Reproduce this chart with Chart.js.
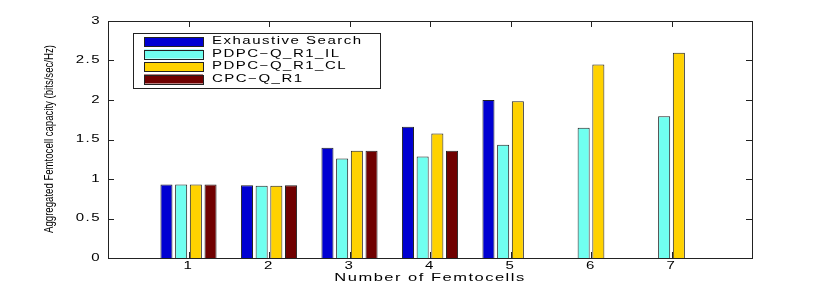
<!DOCTYPE html>
<html>
<head>
<meta charset="utf-8">
<script src="https://cdn.jsdelivr.net/npm/chart.js@4.4.1/dist/chart.umd.min.js"></script>
<style>
body{margin:0;background:#fff;}
#c{display:block;}
</style>
</head>
<body>
<canvas id="c" width="830" height="291"></canvas>
<script>
// categories and tick labels
const femtocells=['1','2','3','4','5','6','7'];
const yTicks=[0,0.5,1,1.5,2,2.5,3];
const xTitle='Number of Femtocells';
const yTitle='Aggregated Femtocell capacity (bits/sec/Hz)';

// series values
const exhaustive=[0.93,0.92,1.395,1.66,2.0,null,null];
const pdpcIL=[0.93,0.915,1.26,1.285,1.433,1.648,1.795];
const pdpcCL=[0.93,0.915,1.357,1.576,1.985,2.45,2.597];
const cpc=[0.93,0.92,1.357,1.357,null,null,null];

const seriesNames=['Exhaustive Search','PDPC\u2212Q_R1_IL','PDPC\u2212Q_R1_CL','CPC\u2212Q_R1'];
const seriesColors=['#0000d2','#70fff0','#ffd200','#700000'];

// empty slot on each side so 1..7 sit like matlab's 0..8 axis
const labels=[''].concat(femtocells,['']);
function pad(arr){ return [null].concat(arr,[null]); }

// stretched helvetica-ish text like the matlab export
function wideText(ctx,txt,x,y,align,size){
  ctx.save();
  ctx.font=size+'px "Liberation Sans", Arial, sans-serif';
  ctx.letterSpacing='1px';
  ctx.textBaseline='middle';
  ctx.textAlign='left';
  ctx.fillStyle='#000';
  ctx.translate(x,y);
  ctx.scale(1.5,1);
  let w=ctx.measureText(txt).width;
  let sx=0;
  if(align=='right') sx=-w;
  else if(align=='center') sx=-w/2;
  ctx.fillText(txt,sx,0);
  ctx.restore();
}

// frame, inward ticks, labels and legend box
const matlabAxes={
  id:'matlabAxes',
  afterDatasetsDraw(chart){
    const ctx=chart.ctx, a=chart.chartArea, xs=chart.scales.x, ys=chart.scales.y;
    ctx.save();
    ctx.strokeStyle='#222';
    ctx.lineWidth=1;
    ctx.strokeRect(a.left+0.5,a.top+0.5,a.right-a.left,a.bottom-a.top);
    ctx.beginPath();
    yTicks.forEach(v=>{
      let py=Math.round(ys.getPixelForValue(v))+0.5;
      ctx.moveTo(a.left,py); ctx.lineTo(a.left+6,py);
      ctx.moveTo(a.right,py); ctx.lineTo(a.right-6,py);
    });
    femtocells.forEach((c,i)=>{
      let px=Math.round(xs.getPixelForValue(i+1))+0.5;
      ctx.moveTo(px,a.bottom); ctx.lineTo(px,a.bottom-6);
      ctx.moveTo(px,a.top); ctx.lineTo(px,a.top+6);
    });
    ctx.stroke();

    // tick labels
    yTicks.forEach(v=>{
      wideText(ctx,String(v),101,ys.getPixelForValue(v),'right',10);
    });
    femtocells.forEach((c,i)=>{
      wideText(ctx,c,xs.getPixelForValue(i+1),266,'center',10);
    });
    wideText(ctx,xTitle,(a.left+a.right)/2,278,'center',11);

    // y title, condensed and rotated
    ctx.save();
    ctx.translate(53,139);
    ctx.rotate(-Math.PI/2);
    ctx.scale(0.8,1);
    ctx.font='12px "Liberation Sans", Arial, sans-serif';
    ctx.textAlign='center';
    ctx.textBaseline='alphabetic';
    ctx.fillStyle='#000';
    ctx.fillText(yTitle,0,0);
    ctx.restore();

    // legend
    ctx.fillStyle='#fff';
    ctx.fillRect(133,33,247,55);
    ctx.strokeRect(133.5,33.5,247,55);
    chart.data.datasets.forEach((ds,i)=>{
      let ry=41.5+i*12.5;
      ctx.fillStyle=ds.backgroundColor;
      ctx.fillRect(144,ry-4.5,59,9);
      ctx.strokeRect(144.5,Math.round(ry-4.5)+0.5,59,9);
      wideText(ctx,ds.label,212,ry,'left',10);
    });
    ctx.restore();
  }
};

const datasets=[exhaustive,pdpcIL,pdpcCL,cpc].map((vals,i)=>({
  label:seriesNames[i],
  data:pad(vals),
  backgroundColor:seriesColors[i],
  borderColor:'#222',
  borderWidth:1,
  categoryPercentage:0.73,
  barPercentage:0.82
}));

new Chart(document.getElementById('c'),{
  type:'bar',
  data:{labels:labels,datasets:datasets},
  options:{
    responsive:false,
    animation:false,
    devicePixelRatio:1,
    layout:{padding:{top:21,right:78,left:0,bottom:0}},
    plugins:{legend:{display:false},tooltip:{enabled:false}},
    scales:{
      x:{
        offset:false,
        grid:{display:false,drawTicks:false},
        border:{display:false},
        ticks:{display:false},
        afterFit(s){ s.height=33; }
      },
      y:{
        min:0,max:3,
        grid:{display:false,drawTicks:false},
        border:{display:false},
        ticks:{display:false,stepSize:0.5},
        afterFit(s){ s.width=108; }
      }
    }
  },
  plugins:[matlabAxes]
});
</script>
</body>
</html>
